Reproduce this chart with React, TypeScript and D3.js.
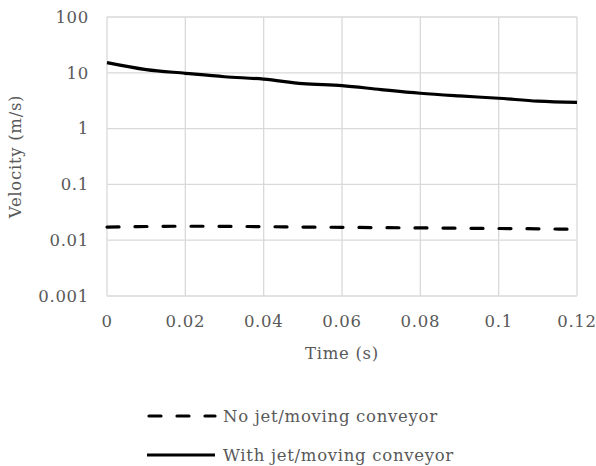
import { useEffect, useRef } from "react"
import * as d3 from "d3"

// time (s)
const times = [0, 0.01, 0.02, 0.03, 0.04, 0.05, 0.06, 0.07, 0.08, 0.09, 0.1, 0.11, 0.12]
// velocity without jet (m/s)
const noJet = [0.0172, 0.0176, 0.0178, 0.0177, 0.0175, 0.0172, 0.017, 0.0168, 0.0166, 0.0164, 0.0162, 0.016, 0.0157]
// velocity with jet (m/s)
const withJet = [15.2, 11.4, 9.8, 8.5, 7.7, 6.4, 5.9, 5.0, 4.3, 3.85, 3.5, 3.1, 2.95]

const xTicks = [0, 0.02, 0.04, 0.06, 0.08, 0.1, 0.12]
const yTicks = [0.001, 0.01, 0.1, 1, 10, 100]
const seriesNames = ["No jet/moving conveyor", "With jet/moving conveyor"]

const W = 596
const H = 466
const font = "'DejaVu Serif', serif"
const textColor = "#595959"
const fontSize = 16.5
const spacing = 0.7

const App = () => {
    const ref = useRef<SVGSVGElement>(null)

    useEffect(() => {
        const svg = d3.select(ref.current)
        svg.selectAll("*").remove()

        const x = d3.scaleLinear().domain([0, 0.12]).range([107, 577])
        const y = d3.scaleLog().domain([0.001, 100]).range([296, 17])

        const grid = svg.append("g")
        grid.selectAll("line.v")
            .data(xTicks)
            .enter()
            .append("line")
            .attr("x1", d => x(d))
            .attr("x2", d => x(d))
            .attr("y1", y(100))
            .attr("y2", y(0.001))
            .attr("stroke", "#d9d9d9")
            .attr("stroke-width", 1.3)
        grid.selectAll("line.h")
            .data(yTicks)
            .enter()
            .append("line")
            .attr("x1", x(0))
            .attr("x2", x(0.12))
            .attr("y1", d => y(d))
            .attr("y2", d => y(d))
            .attr("stroke", "#d9d9d9")
            .attr("stroke-width", 1.3)

        svg.append("g")
            .selectAll("text")
            .data(yTicks)
            .enter()
            .append("text")
            .attr("x", 89)
            .attr("y", d => y(d))
            .attr("dy", "0.35em")
            .attr("text-anchor", "end")
            .text(d => String(d))

        svg.append("g")
            .selectAll("text")
            .data(xTicks)
            .enter()
            .append("text")
            .attr("x", d => x(d))
            .attr("y", 321)
            .attr("dy", "0.35em")
            .attr("text-anchor", "middle")
            .text(d => String(d))

        svg.append("text")
            .attr("x", (x(0) + x(0.12)) / 2)
            .attr("y", 353)
            .attr("dy", "0.35em")
            .attr("text-anchor", "middle")
            .text("Time (s)")

        svg.append("text")
            .attr("transform", `translate(15, ${(y(100) + y(0.001)) / 2}) rotate(-90)`)
            .attr("dy", "0.35em")
            .attr("text-anchor", "middle")
            .text("Velocity (m/s)")

        svg.selectAll("text")
            .attr("font-family", font)
            .attr("font-size", fontSize)
            .attr("letter-spacing", spacing)
            .attr("fill", textColor)

        const line = d3.line<number>()
            .x((d, i) => x(times[i]))
            .y(d => y(d))
            .curve(d3.curveMonotoneX)

        svg.append("path")
            .attr("d", line(noJet))
            .attr("fill", "none")
            .attr("stroke", "#000")
            .attr("stroke-width", 3.2)
            .attr("stroke-linecap", "round")
            .attr("stroke-dasharray", "12,16")

        svg.append("path")
            .attr("d", line(withJet))
            .attr("fill", "none")
            .attr("stroke", "#000")
            .attr("stroke-width", 3.2)

        // legend
        const legend = svg.append("g")
        const rows = [416, 455]
        legend.selectAll("line")
            .data(seriesNames)
            .enter()
            .append("line")
            .attr("x1", (d, i) => i === 0 ? 149 : 147)
            .attr("x2", 215)
            .attr("y1", (d, i) => rows[i])
            .attr("y2", (d, i) => rows[i])
            .attr("stroke", "#000")
            .attr("stroke-width", 3.2)
            .attr("stroke-linecap", (d, i) => i === 0 ? "round" : "butt")
            .attr("stroke-dasharray", (d, i) => i === 0 ? "12,16" : null)
        legend.selectAll("text")
            .data(seriesNames)
            .enter()
            .append("text")
            .attr("x", 223)
            .attr("y", (d, i) => rows[i])
            .attr("dy", "0.35em")
            .attr("font-family", font)
            .attr("font-size", fontSize)
            .attr("letter-spacing", spacing)
            .attr("fill", textColor)
            .text(d => d)
    })

    return (
        <svg ref={ref} width={W} height={H} style={{ position: "absolute", left: 0, top: 0, background: "#fff" }} />
    )
}

export default App
